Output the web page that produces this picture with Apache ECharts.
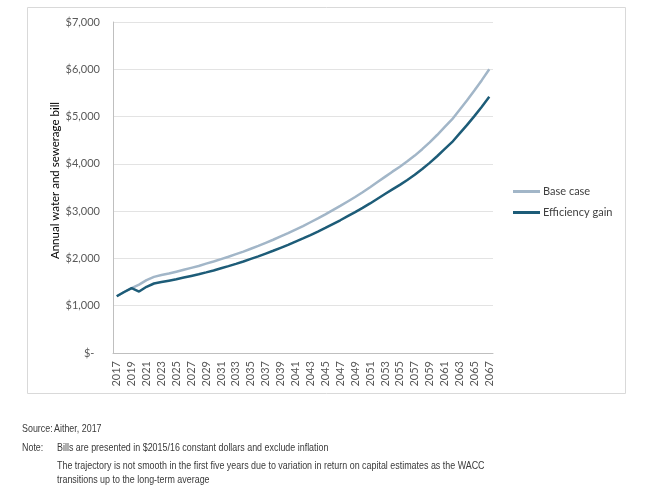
<!DOCTYPE html>
<html>
<head>
<meta charset="utf-8">
<script src="https://cdn.jsdelivr.net/npm/echarts@6/dist/echarts.min.js"></script>
<style>html,body{margin:0;padding:0;background:#fff}#c{width:650px;height:488px}</style>
</head>
<body>
<div id="c"></div>
<script>
const years = [];
for (let y = 2017; y <= 2067; y++) years.push(String(y));

const baseCase = [1200,1290,1370,1445,1540,1610,1650,1680,1720,1760,
  1800,1840,1890,1935,1985,2035,2090,2145,2205,2265,
  2330,2395,2465,2535,2610,2685,2765,2845,2930,3020,
  3110,3205,3300,3400,3505,3615,3725,3835,3940,4055,
  4175,4310,4455,4610,4775,4940,5140,5340,5550,5770,
  6000];

const efficiencyGain = [1200,1290,1370,1300,1400,1470,1500,1530,1560,1595,
  1630,1665,1705,1746,1792,1837,1886,1936,1990,2044,
  2103,2162,2225,2288,2356,2423,2495,2568,2644,2726,
  2807,2893,2978,3069,3163,3263,3362,3461,3556,3660,
  3768,3890,4021,4161,4310,4458,4639,4819,5009,5208,
  5420];

const yTicks = [0,1000,2000,3000,4000,5000,6000,7000];

const noteFont = '11px "Liberation Sans", Arial, sans-serif';
const noteText = (x, y, t) => ({type: 'text', x: x, y: y, scaleX: 0.81,
  style: {text: t, font: noteFont, fill: '#3a3a3a'}});

const chart = echarts.init(document.getElementById('c'));
chart.setOption({
  animation: false,
  backgroundColor: '#fff',
  grid: {left: 113, right: 157, top: 22, bottom: 135},
  legend: {
    orient: 'vertical',
    left: 513, top: 186, padding: 0,
    itemWidth: 27, itemHeight: 3, itemGap: 10,
    icon: 'rect',
    textStyle: {fontFamily: 'Lato', fontSize: 11, color: '#404040', padding: [0,0,0,-2]},
    data: ['Base case', 'Efficiency gain']
  },
  xAxis: {
    type: 'category',
    data: years,
    boundaryGap: true,
    axisLine: {lineStyle: {color: '#bfbfbf'}},
    axisTick: {show: false},
    axisLabel: {interval: 1, rotate: 90, fontFamily: 'Lato', fontSize: 11, color: '#595959', margin: 8}
  },
  yAxis: {
    type: 'value',
    min: yTicks[0], max: yTicks[yTicks.length-1], interval: 1000,
    name: 'Annual water and sewerage bill',
    nameLocation: 'middle',
    nameGap: 52,
    nameMoveOverlap: false,
    nameTextStyle: {fontFamily: 'Lato', fontSize: 11.5, color: '#000', padding: [0, 0, 0, 14]},
    axisLine: {show: true, lineStyle: {color: '#bfbfbf'}},
    axisTick: {show: false},
    splitLine: {lineStyle: {color: '#e3e3e3'}},
    axisLabel: {
      fontFamily: 'Lato', fontSize: 11, color: '#595959', margin: 13,
      formatter: v => v === 0 ? '$-  ' : '$' + v.toLocaleString('en-US')
    }
  },
  series: [
    {name: 'Base case', type: 'line', data: baseCase, symbol: 'none',
     lineStyle: {color: '#a2b6c8', width: 2.5}, itemStyle: {color: '#a2b6c8'}},
    {name: 'Efficiency gain', type: 'line', data: efficiencyGain, symbol: 'none',
     lineStyle: {color: '#1d5c78', width: 2.5}, itemStyle: {color: '#1d5c78'}}
  ],
  graphic: [
    {type: 'rect', shape: {x: 27.5, y: 7.5, width: 598, height: 386},
     style: {fill: 'none', stroke: '#d9d9d9', lineWidth: 1}, z: -1},
    noteText(22, 423, 'Source:'),
    noteText(54, 423, 'Aither, 2017'),
    noteText(22, 442, 'Note:'),
    noteText(57, 442, 'Bills are presented in $2015/16 constant dollars and exclude inflation'),
    noteText(57, 460, 'The trajectory is not smooth in the first five years due to variation in return on capital estimates as the WACC'),
    noteText(57, 474, 'transitions up to the long-term average')
  ]
});
</script>
</body>
</html>
